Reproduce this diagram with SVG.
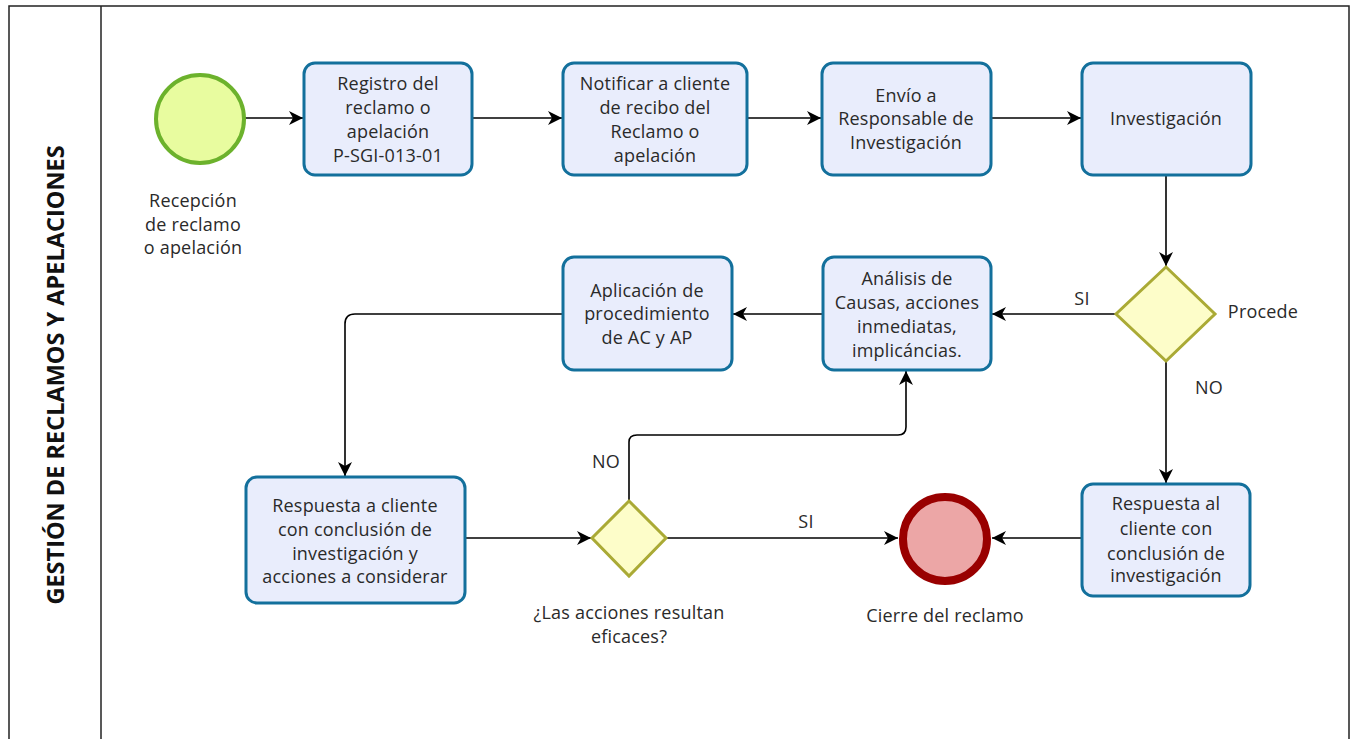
<svg xmlns="http://www.w3.org/2000/svg" width="1354" height="739" viewBox="0 0 1354 739">
<style>
.t{font-family:"Open Sans","Noto Sans","DejaVu Sans",sans-serif;font-size:18px;letter-spacing:0.2px;fill:#2a2a2a;text-anchor:middle;dominant-baseline:central}
.task{fill:#e9edfc;stroke:#13709c;stroke-width:3}
.gw{fill:#fdfdc9;stroke:#aaaa35;stroke-width:3}
.c{fill:none;stroke:#000;stroke-width:1.6}
.lane{fill:none;stroke:#222;stroke-width:1.5}
</style>
<defs>
<marker id="a" markerUnits="userSpaceOnUse" markerWidth="16" markerHeight="16" refX="14" refY="7" orient="auto" viewBox="0 0 16 16">
<path d="M0,0 L14,7 L0,14 L4,7 z" fill="#000"/>
</marker>
</defs>
<rect x="0" y="0" width="1354" height="739" fill="#fff"/>
<g id="pool">
<path class="lane" d="M9,745 V6 H1349 V745"/>
<line class="lane" x1="101" y1="6" x2="101" y2="745"/>
<text transform="translate(55,375) rotate(-90)" style="font-family:'Open Sans','Noto Sans',sans-serif;font-size:23.5px;font-weight:bold;fill:#111;text-anchor:middle;dominant-baseline:central">GESTIÓN DE RECLAMOS Y APELACIONES</text>
</g>
<g id="connectors">
<line class="c" x1="245" y1="118" x2="303" y2="118" marker-end="url(#a)"/>
<line class="c" x1="472" y1="118" x2="562" y2="118" marker-end="url(#a)"/>
<line class="c" x1="747" y1="118" x2="821" y2="118" marker-end="url(#a)"/>
<line class="c" x1="991" y1="118" x2="1081" y2="118" marker-end="url(#a)"/>
<line class="c" x1="1166" y1="175" x2="1166" y2="266" marker-end="url(#a)"/>
<line class="c" x1="1115" y1="314" x2="992" y2="314" marker-end="url(#a)"/>
<line class="c" x1="823" y1="314" x2="733" y2="314" marker-end="url(#a)"/>
<path class="c" d="M563,314 H355 Q345,314 345,324 V476" marker-end="url(#a)"/>
<line class="c" x1="1166" y1="361" x2="1166" y2="483" marker-end="url(#a)"/>
<line class="c" x1="1082" y1="538" x2="992" y2="538" marker-end="url(#a)"/>
<line class="c" x1="465" y1="538" x2="591" y2="538" marker-end="url(#a)"/>
<line class="c" x1="666" y1="538" x2="898" y2="538" marker-end="url(#a)"/>
<path class="c" d="M629,501 V442 Q629,435 637,435 H898 Q906,435 906,427 V371" marker-end="url(#a)"/>
<text class="t" x="1082" y="298">SI</text>
<text class="t" x="1209" y="387">NO</text>
<text class="t" x="606" y="461">NO</text>
<text class="t" x="806" y="521">SI</text>
</g>
<g id="start">
<circle cx="200" cy="119" r="44" fill="#e8fc9f" stroke="#6cb22c" stroke-width="4"/>
<text class="t" x="193" y="200">Recepción</text>
<text class="t" x="193" y="224">de reclamo</text>
<text class="t" x="193" y="247">o apelación</text>
</g>
<g id="registro">
<rect class="task" x="304" y="63" width="168" height="112" rx="11"/>
<text class="t" x="388" y="83">Registro del</text>
<text class="t" x="388" y="107">reclamo o</text>
<text class="t" x="388" y="131">apelación</text>
<text class="t" x="388" y="155">P-SGI-013-01</text>
</g>
<g id="notificar">
<rect class="task" x="563" y="63" width="184" height="112" rx="11"/>
<text class="t" x="655" y="83">Notificar a cliente</text>
<text class="t" x="655" y="107">de recibo del</text>
<text class="t" x="655" y="131">Reclamo o</text>
<text class="t" x="655" y="155">apelación</text>
</g>
<g id="envio">
<rect class="task" x="822" y="63" width="169" height="112" rx="11"/>
<text class="t" x="906" y="95">Envío a</text>
<text class="t" x="906" y="118">Responsable de</text>
<text class="t" x="906" y="142">Investigación</text>
</g>
<g id="investigacion">
<rect class="task" x="1082" y="63" width="169" height="112" rx="11"/>
<text class="t" x="1166" y="118">Investigación</text>
</g>
<g id="procede">
<polygon class="gw" points="1166,267 1215,314 1166,361 1116,314"/>
<text class="t" x="1263" y="311">Procede</text>
</g>
<g id="analisis">
<rect class="task" x="823" y="257" width="168" height="113" rx="11"/>
<text class="t" x="907" y="278">Análisis de</text>
<text class="t" x="907" y="302">Causas, acciones</text>
<text class="t" x="907" y="326">inmediatas,</text>
<text class="t" x="907" y="350">implicáncias.</text>
</g>
<g id="aplicacion">
<rect class="task" x="563" y="257" width="169" height="113" rx="11"/>
<text class="t" x="647" y="290">Aplicación de</text>
<text class="t" x="647" y="313">procedimiento</text>
<text class="t" x="647" y="337">de AC y AP</text>
</g>
<g id="respuesta-cliente">
<rect class="task" x="246" y="477" width="219" height="126" rx="11"/>
<text class="t" x="355" y="505">Respuesta a cliente</text>
<text class="t" x="355" y="529">con conclusión de</text>
<text class="t" x="355" y="553">investigación y</text>
<text class="t" x="355" y="576">acciones a considerar</text>
</g>
<g id="eficaces">
<polygon class="gw" points="629,501 666,538 629,576 592,538"/>
<text class="t" x="629" y="612">¿Las acciones resultan</text>
<text class="t" x="629" y="636">eficaces?</text>
</g>
<g id="cierre">
<circle cx="945" cy="539" r="42" fill="#eca6a6" stroke="#990000" stroke-width="8"/>
<text class="t" x="945" y="615">Cierre del reclamo</text>
</g>
<g id="respuesta-al-cliente">
<rect class="task" x="1082" y="484" width="168" height="112" rx="11"/>
<text class="t" x="1166" y="503">Respuesta al</text>
<text class="t" x="1166" y="528">cliente con</text>
<text class="t" x="1166" y="553">conclusión de</text>
<text class="t" x="1166" y="575">investigación</text>
</g>
</svg>
